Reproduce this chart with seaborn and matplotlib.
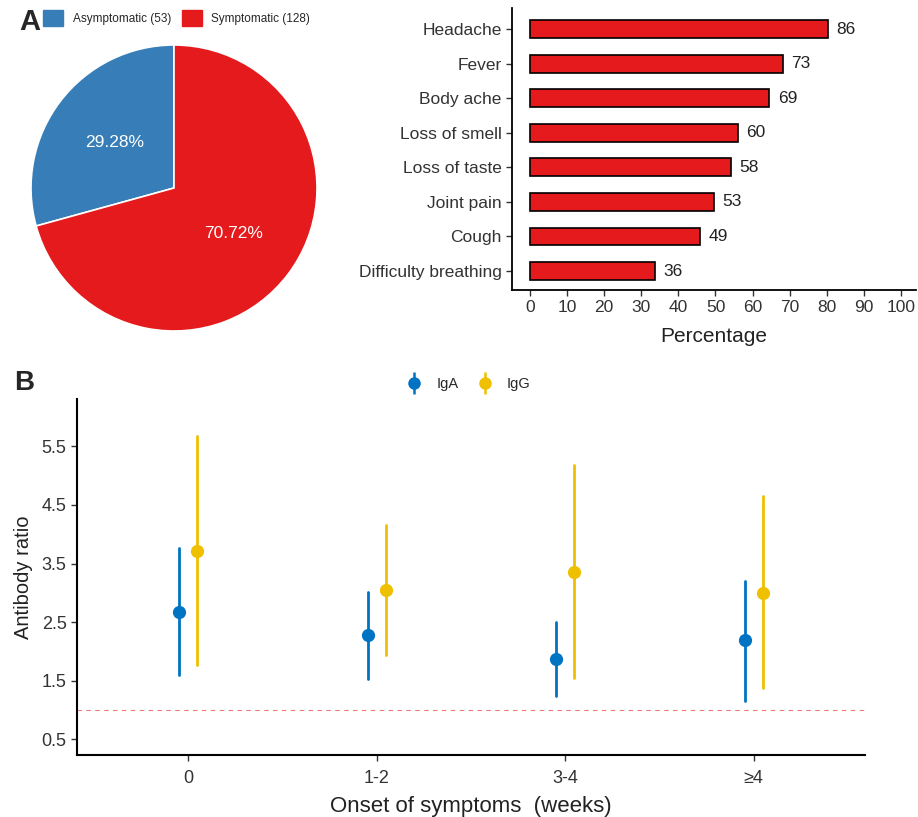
import numpy as np
import pandas as pd
import matplotlib
matplotlib.use("Agg")
import matplotlib.pyplot as plt
from matplotlib.lines import Line2D
from matplotlib.patches import Patch
from matplotlib.legend_handler import HandlerTuple
import seaborn as sns

# ---- data ----
status_labels = ["Asymptomatic (53)", "Symptomatic (128)"]
status_counts = [53, 128]

symptoms = ["Headache", "Fever", "Body ache", "Loss of smell", "Loss of taste",
            "Joint pain", "Cough", "Difficulty breathing"]
symptom_counts = [86, 73, 69, 60, 58, 53, 49, 36]
symptom_pct = [80.4, 68.2, 64.5, 56.1, 54.2, 49.5, 45.8, 33.6]
pct_ticks = [0, 10, 20, 30, 40, 50, 60, 70, 80, 90, 100]

onset = ["0", "1-2", "3-4", "\u22654"]
iga_mid = [2.67, 2.28, 1.87, 2.19]
iga_low = [1.59, 1.53, 1.23, 1.16]
iga_high = [3.76, 3.02, 2.50, 3.21]
igg_mid = [3.72, 3.05, 3.36, 3.00]
igg_low = [1.77, 1.94, 1.55, 1.38]
igg_high = [5.67, 4.16, 5.18, 4.65]
ratio_ticks = [0.5, 1.5, 2.5, 3.5, 4.5, 5.5]
cutoff = 1.0

blue = "#377EB8"
red = "#E41A1C"
ab_colors = {"IgA": "#0073C2", "IgG": "#EFC000"}

sns.set_theme(style="ticks")
plt.rcParams["font.family"] = ["Liberation Sans", "DejaVu Sans"]
plt.rcParams["axes.edgecolor"] = "black"
plt.rcParams["xtick.color"] = "#333333"
plt.rcParams["ytick.color"] = "#333333"

W, H = 918, 817
fig = plt.figure(figsize=(W / 100, H / 100), dpi=100)


def box(left, top, right, bottom):
    return [left / W, 1 - bottom / H, (right - left) / W, (bottom - top) / H]


# ---- panel A: pie ----
ax_pie = fig.add_axes(box(31, 45, 317, 331))
ax_pie.pie(status_counts, colors=[blue, red], startangle=90, counterclock=True,
           autopct="%.2f%%", pctdistance=0.52,
           wedgeprops={"edgecolor": "white", "linewidth": 1.2},
           textprops={"color": "white", "fontsize": 12.5})
ax_pie.set_xlim(-1, 1)
ax_pie.set_ylim(-1, 1)

fig.legend(handles=[Patch(color=blue), Patch(color=red)], labels=status_labels,
           loc="upper left", bbox_to_anchor=(43 / W, 1 - 10 / H), ncol=2,
           frameon=False, fontsize=8.5, borderpad=0, borderaxespad=0,
           handlelength=1.7, handleheight=1.7, handletextpad=0.8,
           columnspacing=0.9)
fig.text(30 / W, 1 - 22 / H, "A", fontsize=21, fontweight="bold",
         ha="center", va="center")

# ---- panel A: bars ----
ax_bar = fig.add_axes(box(512, 8, 916, 290))
df_bar = pd.DataFrame({"symptom": symptoms, "pct": symptom_pct})
sns.barplot(data=df_bar, x="pct", y="symptom", orient="h", color=red,
            edgecolor="black", linewidth=1.2, width=0.52, saturation=1,
            ax=ax_bar)
ax_bar.bar_label(ax_bar.containers[0], labels=[str(c) for c in symptom_counts],
                 padding=6, fontsize=12.5, color="#222222")
ax_bar.set_xlim(-4.8, 104)
ax_bar.set_ylim(7.55, -0.62)
ax_bar.set_xticks(pct_ticks)
ax_bar.set_xlabel("Percentage", fontsize=15, color="#222222", labelpad=8)
ax_bar.set_ylabel("")
ax_bar.tick_params(labelsize=12.5, length=4, width=1)
sns.despine(ax=ax_bar)
for s in ["left", "bottom"]:
    ax_bar.spines[s].set_linewidth(1.3)

# ---- panel B ----
rows = []
for i, o in enumerate(onset):
    for v in (iga_low[i], iga_mid[i], iga_high[i]):
        rows.append({"onset": o, "ab": "IgA", "ratio": v})
    for v in (igg_low[i], igg_mid[i], igg_high[i]):
        rows.append({"onset": o, "ab": "IgG", "ratio": v})
df_ab = pd.DataFrame(rows)

ax_b = fig.add_axes(box(77, 399, 865, 755))
sns.pointplot(data=df_ab, x="onset", y="ratio", hue="ab", order=onset,
              hue_order=["IgA", "IgG"], palette=ab_colors,
              estimator="median", errorbar=lambda v: (v.min(), v.max()),
              dodge=0.096, linestyle="none", markers="o", markersize=9.5,
              markeredgewidth=0, err_kws={"linewidth": 2}, legend=False,
              ax=ax_b)
ax_b.axhline(cutoff, color="#F07878", linestyle=(0, (4, 4)), linewidth=0.8,
             zorder=0)
ax_b.set_xlim(-0.59, 3.59)
ax_b.set_ylim(0.23, 6.31)
ax_b.set_yticks(ratio_ticks)
ax_b.set_yticklabels([str(t) for t in ratio_ticks])
ax_b.set_xlabel("Onset of symptoms  (weeks)", fontsize=16, color="#222222",
                labelpad=6)
ax_b.set_ylabel("Antibody ratio", fontsize=14.5, color="#222222", labelpad=6)
ax_b.tick_params(labelsize=13, length=4, width=1)
ax_b.tick_params(axis="x", pad=7)
sns.despine(ax=ax_b)
for s in ["left", "bottom"]:
    ax_b.spines[s].set_linewidth(1.5)

handles = []
for name in ["IgA", "IgG"]:
    c = ab_colors[name]
    handles.append((Line2D([], [], color=c, marker="|", markersize=16,
                           markeredgewidth=1.8, linestyle="none"),
                    Line2D([], [], color=c, marker="o", markersize=9,
                           markeredgewidth=0, linestyle="none")))
fig.legend(handles=handles, labels=["IgA", "IgG"], loc="center",
           bbox_to_anchor=(468 / W, 1 - 384 / H), ncol=2, frameon=False,
           fontsize=10.5, handlelength=1.2, handletextpad=0.9,
           columnspacing=1.2,
           handler_map={tuple: HandlerTuple(ndivide=1)})
fig.text(24 / W, 1 - 383 / H, "B", fontsize=20, fontweight="bold",
         ha="center", va="center")

fig.savefig("out.png", dpi=100)
